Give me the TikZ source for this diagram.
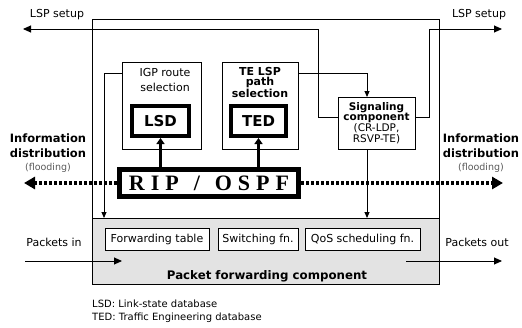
\documentclass[tikz,border=0pt]{standalone}
\usepackage{fontspec}
\setmainfont{DejaVu Sans}
\newfontfamily\ripfont{Liberation Serif}
\usetikzlibrary{arrows.meta}
\tikzset{
  lbl/.style={font=\fontsize{11}{12}\selectfont, inner sep=0pt, align=center},
  bx/.style={draw, line width=0.9pt, fill=white, inner sep=0pt},
  thickbx/.style={draw, line width=4pt, fill=white, inner sep=0pt},
  conn/.style={line width=0.9pt},
  tipsmall/.style={-{Triangle[length=6pt,width=5pt]}},
  tipmid/.style={-{Triangle[length=8pt,width=7pt]}},
  tipup/.style={line width=3pt, -{Triangle[length=6pt,width=8pt]}},
  flood/.style={line width=3.2pt, dash pattern=on 3pt off 2pt, -{Triangle[length=11pt,width=12pt]}}
}
\begin{document}
\begin{tikzpicture}[x=1pt,y=-1pt]
\useasboundingbox (0,0) rectangle (522,327);
% outer frame and packet forwarding component
\node[draw, line width=0.7pt, minimum width=347pt, minimum height=265pt, inner sep=0pt] (outer) at (265.5,151.5) {};
\node[draw, line width=0.9pt, fill=gray!22, minimum width=347pt, minimum height=66pt, inner sep=0pt] (fwd) at (265.5,251) {};
\node[lbl, font=\fontsize{11.8}{12}\selectfont\bfseries] (fwdlbl) at (267,276) {Packet forwarding component};
\node[bx, minimum width=104pt, minimum height=22pt, lbl] (ftab) at (157,239) {Forwarding table};
\node[bx, minimum width=80pt, minimum height=22pt, lbl] (swfn) at (258,239) {Switching fn.};
\node[bx, minimum width=115pt, minimum height=22pt, lbl] (qos) at (362.5,239) {QoS scheduling fn.};
% route selection boxes
\node[bx, minimum width=79pt, minimum height=87pt] (igp) at (161.5,105.5) {};
\node[lbl, font=\fontsize{11}{15}\selectfont] (igplbl) at (165,79.5) {IGP route\\selection};
\node[bx, minimum width=76pt, minimum height=87pt] (te) at (260,105.5) {};
\node[lbl, font=\fontsize{11}{10.5}\selectfont\bfseries] (telbl) at (260,82.5) {TE LSP\\path\\selection};
\node[thickbx, minimum width=57pt, minimum height=30pt, font=\fontsize{15}{16}\selectfont\bfseries] (lsd) at (160.5,121) {LSD};
\node[thickbx, minimum width=55pt, minimum height=30pt, font=\fontsize{15}{16}\selectfont\bfseries] (ted) at (258.5,121) {TED};
% signaling
\node[bx, minimum width=77pt, minimum height=52pt, font=\fontsize{10.5}{10.7}\selectfont, align=center] (sig) at (376.5,123) {\textbf{Signaling}\\\textbf{component}\\(CR-LDP,\\RSVP-TE)};
% RIP / OSPF
\node[draw, line width=5pt, fill=white, inner sep=0pt, minimum width=179pt, minimum height=27pt,
      font=\ripfont\bfseries\fontsize{22}{22}\selectfont] (rip) at (209,183)
      {R\kern6pt I\kern6pt P\hspace{15pt}/\hspace{15pt}O\kern6pt S\kern6pt P\kern6pt F};
% outside labels
\node[lbl] (lspL) at (57,15) {LSP setup};
\node[lbl] (lspR) at (479,15) {LSP setup};
\node[lbl, font=\fontsize{11.5}{15}\selectfont\bfseries] (infoL) at (48,145.5) {Information\\distribution};
\node[lbl, font=\fontsize{9.5}{10}\selectfont, text=black!65] (floodL) at (48,168) {(flooding)};
\node[lbl, font=\fontsize{11.5}{15}\selectfont\bfseries] (infoR) at (481,145.5) {Information\\distribution};
\node[lbl, font=\fontsize{9.5}{10}\selectfont, text=black!65] (floodR) at (481,168) {(flooding)};
\node[lbl] (pin) at (54,242) {Packets in};
\node[lbl] (pout) at (477,242) {Packets out};
\node[lbl, font=\fontsize{10}{11}\selectfont, anchor=west] (leg1) at (92,304) {LSD: Link-state database};
\node[lbl, font=\fontsize{10}{11}\selectfont, anchor=west] (leg2) at (92,318) {TED: Traffic Engineering database};
% coordinates
\coordinate (igpout) at (122,73);
\coordinate (fwdinL) at (104,218);
\coordinate (teout) at (298,73);
\coordinate (sigin) at (367,97);
\coordinate (sigout) at (367,149);
\coordinate (fwdinR) at (367,218);
\coordinate (sigL) at (338,117);
\coordinate (sigR) at (415,117);
\coordinate (lspLc) at (318,29);
\coordinate (lspLend) at (23,29);
\coordinate (lspRc) at (429,29);
\coordinate (lspRend) at (502,29);
\coordinate (floodLend) at (24,183);
\coordinate (floodRend) at (503,183);
\coordinate (pinstart) at (25,261);
\coordinate (pinend) at (122,261);
\coordinate (poutstart) at (406,261);
\coordinate (poutend) at (502,261);
% connectors
\draw[conn, tipsmall] (igpout) -| (fwdinL);
\draw[conn, tipsmall] (teout) -| (sigin);
\draw[conn, tipsmall] (sigout) -- (fwdinR);
\draw[conn, tipmid] (sigL) -| (lspLc) -- (lspLend);
\draw[conn, tipmid] (sigR) -| (lspRc) -- (lspRend);
\draw[tipup] (rip.north -| lsd.south) -- (lsd.south);
\draw[tipup] (rip.north -| ted.south) -- (ted.south);
\draw[flood] (rip.west) -- (floodLend);
\draw[flood] (rip.east) -- (floodRend);
\draw[conn, tipmid] (pinstart) -- (pinend);
\draw[conn, tipmid] (poutstart) -- (poutend);
\end{tikzpicture}
\end{document}
